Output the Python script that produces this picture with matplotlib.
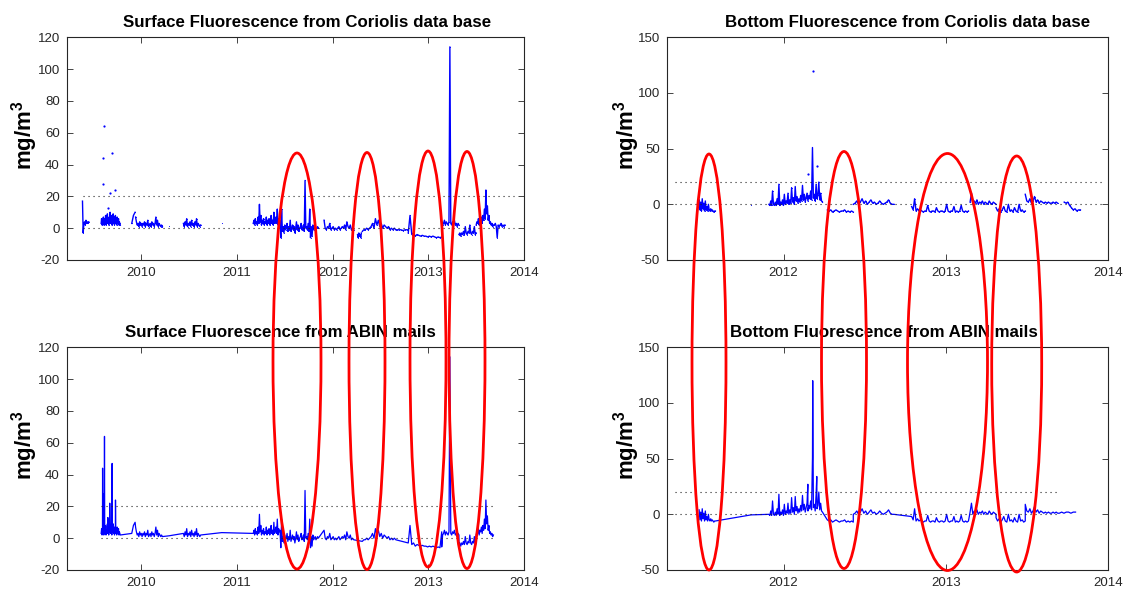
import numpy as np
import matplotlib.pyplot as plt
from matplotlib.patches import Ellipse

plt.rcParams['font.family'] = ['Liberation Sans', 'DejaVu Sans']
plt.rcParams['mathtext.fontset'] = 'custom'
plt.rcParams['mathtext.bf'] = 'Liberation Sans:bold'
plt.rcParams['mathtext.rm'] = 'Liberation Sans'
plt.rcParams['axes.unicode_minus'] = False

# ---------------- surface fluorescence (left panels), years / mg m-3 ----------------
s0 = [17, -3, 3, 4, 2, 5, 3, 4, 3, 4]
s1 = [3, 6, 2, 5, 3, 7, 2, 4, 6, 3, 8, 2, 5, 4, 9, 3, 6, 2, 7, 4, 10, 3, 5, 8, 2, 6,
      4, 9, 3, 7, 2, 5, 8, 3, 6, 2, 7, 4, 3, 6, 2, 4, 3, 2]
s2 = [3, 8, 10]
s3 = [7, 4, 2, 3, 1, 4, 2, 3, 1, 3, 2, 4, 1, 3, 2, 5, 1, 2, 3, 1, 4, 2, 3, 1, 3, 7,
      2, 5, 1, 3, 2, 1, 2, 1]
s4 = [1.5]
s5 = [3, 1, 4, 2, 6, 1, 3, 2, 4, 1, 5, 2, 3, 1, 4, 2, 6, 1, 3, 2, 1, 2]
s6 = [3.5]
s7 = [3, 5, 2, 6, 3, 4, 2, 7, 3, 15, 4, 8, 2, 5, 3, 6, 2, 4, 3, 7, 2, 5, 3, 6, 2, 4,
      8, 3, 5, 2, 10, 3, 4, 7, 3, 12, 2, 6, 4, 5]
s8 = [4, -6, 12, -2, 1, -3, 2, -1, 0, 3, -2, 1, -1, 5, -2, 0, 2, -1, 1, -3, 0, 4, -1,
      2, -2, 0, 1, 3, -1, 0, 2, -2, 30, 0, 1, -1, 3, -2, 12, -6, 1, -5, 2, -1, 0, 1,
      -1, 0, 1, 0]
s9 = [5, 0, -1, 1, 0, 3, -1, 0, 1, -1, 0, -1, 0, 1, -1, 0, 1, 0, 2, -1, 4, 1, 0, 2,
      -1, 0, -1]
s10 = [-4, -6, -3, -5, -4, -6, -3]
s11 = [-2, -1, -1, 0, -1, 0, 1, 3, 0, 6, 2, 5, 1, 3, 0, 2, 1, 0, 1, -1, 0, -1, 0, -1]
s11b = [-1, -1, -1, -1.5, -1, -1]
s12 = [-3, 8, -4, -3, -5, -4, -4.5, -5, -4.5, -5, -5, -5.5, -5, -5.5, -5, -5.5, -6,
       -5.5, -6, -5.5]
s13 = [4, 2, 3, 5, 2, 4, 3, 2, 4, 114, 3, 2, 4, 3, 5, 2, 3, 1, 3, 2]
s14 = [-4, -3, -5, -3, -4, -2, -4, 1, -3, -4, -2, -3, 2, -3, -4, -2, -3, 1, -4, -3]
s15 = [2, 4, 3, 6, 2, 5, 4, 7, 3, 8, 5, 12, 6, 24, 9, 14, 5, 8, 3, 4, 2, 3, 1, 2]
s16 = [2, 3, 1, -6, 2, 1, 2, 3, 1, 2, 1, 2]

surf_spike_t = [2009.595, 2009.600, 2009.615, 2009.65, 2009.67, 2009.695, 2009.73]
surf_spike_v = [44, 28, 64, 13, 22, 47, 24]

# (start, end, values, in Coriolis panel, in ABIN panel)
surf_segments = [
    (2009.385, 2009.45, s0, True, False),
    (2009.58, 2009.78, s1, True, True),
    (2009.90, 2009.935, s2, True, True),
    (2009.94, 2010.22, s3, True, True),
    (2010.29, 2010.29, s4, True, True),
    (2010.44, 2010.62, s5, True, True),
    (2010.84, 2010.84, s6, True, True),
    (2011.17, 2011.45, s7, True, True),
    (2011.45, 2011.85, s8, True, True),
    (2011.91, 2012.22, s9, True, True),
    (2012.26, 2012.30, s10, True, False),
    (2012.31, 2012.66, s11, True, True),
    (2012.67, 2012.78, s11b, True, False),
    (2012.79, 2013.14, s12, True, True),
    (2013.14, 2013.32, s13, True, True),
    (2013.32, 2013.50, s14, True, True),
    (2013.50, 2013.68, s15, True, True),
    (2013.69, 2013.80, s16, True, False),
]

# ---------------- bottom fluorescence (right panels) ----------------
b1 = [4, -5, 2, -6, 5, -4, 1, -6, 3, -5, -2, -6, 0, -5, -6, -4, -6, -5, -6, -7, -6, -6]
b2 = [-0.5]
b3 = [0, -1, 3, -1, 12, 0, -1, 2, -1, 5, 0, 18, -1, 2, 0, 4, -1, 9, 0, 3, 1, 10, 0, 4,
      1, 15, 2, 6, 0, 16, 3, 7, 1, 5, 2, 8, 3, 17, 4, 9, 2, 6, 10, 3, 8, 5, 12, 4, 51,
      6, 9, 3, 18, 5, 8, 20, 4, 10, 3, 2]
b4 = [-5, -6, -5, -7, -6, -5, -6, -7, -6, -6, -5, -7, -6, -7, -6, -7]
b5 = [0, 1, 3, 0, 2, 5, 1, 3, 0, 2, 4, 1, 2, 0, 1, 3, 1, 0, 1, 2, 4, 1, 0, 0]
b6 = [-2, -5, 5, -6, -4, -6, -5, -6, -7, -6, -6, -1, -6, -7, -6, -6, -7, -3, -6, -7,
      -6, -6, -7, -6, 0, -6, -7, -6, -6, -2, -7, -6, -7, -6, -1, -6, -7, -6, -7, -6]
b7 = [2, 10, 0, 3, 1, 4, 0, 2, 1, 3, 0, 2, 1, 0, 3, 1, 0, 2, 1, 0]
b8 = [-3, -6, -4, -7, -5, -2, -6, -7, 0, -6, -5, -7, -3, -6, -7, 0, -6, -5, -7, -6]
b9 = [9, 3, 2, 5, 1, 3, 7, 2, 4, 1, 3, 2, 1, 2, 1, 2, 1, 1, 2, 1, 2, 1]
b9b = [1, 2, 1, 2, 2, 1, 2, 2]
b10 = [2, 1, 2, -1, -3, -5, -4, -6, -5, -5]

bot_spike_t = [2012.15, 2012.18, 2012.205]
bot_spike_v = [27, 120, 34]

bot_segments = [
    (2011.48, 2011.58, b1, True, True),
    (2011.80, 2011.80, b2, True, True),
    (2011.91, 2012.24, b3, True, True),
    (2012.27, 2012.43, b4, True, True),
    (2012.43, 2012.68, b5, True, True),
    (2012.79, 2013.14, b6, True, True),
    (2013.15, 2013.31, b7, True, True),
    (2013.31, 2013.49, b8, True, True),
    (2013.49, 2013.69, b9, True, True),
    (2013.70, 2013.80, b9b, False, True),
    (2013.73, 2013.83, b10, True, False),
]

# reference lines (0 and 20 mg/m3) extents
ref_span = {'surf_top': (2009.39, 2013.90), 'surf_bot': (2009.58, 2013.68),
            'bot_top': (2011.33, 2013.97), 'bot_bot': (2011.33, 2013.70)}

# red ellipses: centre x, centre y, width, height (figure pixels, from top)
ell_cx = [297, 367, 428, 467, 709, 844, 947.5, 1016.7]
ell_cy = [361, 361, 359, 360, 362, 360, 362, 364]
ell_w = [48, 36, 36, 36, 34, 45, 80, 50]
ell_h = [416, 417, 416, 417, 416, 417, 417, 416]

W, H = 1141, 590
fig = plt.figure(figsize=(W / 100, H / 100), dpi=100)


def pax(x0, y0, x1, y1):
    return fig.add_axes([x0 / W, 1 - y1 / H, (x1 - x0) / W, (y1 - y0) / H])


ax_tl = pax(66.7, 37.3, 524, 260)
ax_bl = pax(66.7, 347.3, 524, 570)
ax_tr = pax(666.7, 37.3, 1108, 260)
ax_br = pax(666.7, 347.3, 1108, 570)


def draw_dots(ax, segs, st, sv):
    for t0, t1, v, on_top, on_bot in segs:
        if not on_top:
            continue
        t = np.linspace(t0, t1, len(v))
        ax.plot(t, v, '-', color='blue', lw=1.0)
        ax.plot(t, v, '.', color='blue', ms=1.5, mew=0)
    ax.plot(st, sv, '.', color='blue', ms=3.2, mew=0, ls='none')


def draw_line(ax, segs, st, sv):
    ts, vs = [], []
    for t0, t1, v, on_top, on_bot in segs:
        if not on_bot:
            continue
        ts.extend(np.linspace(t0, t1, len(v)))
        vs.extend(v)
    ts.extend(st)
    vs.extend(sv)
    order = np.argsort(ts)
    ax.plot(np.array(ts)[order], np.array(vs)[order], '-', color='blue', lw=0.9)


def refs(ax, span):
    for y in (0, 20):
        ax.plot(span, [y, y], color='#222222', lw=0.8, ls=(0, (1, 3.5)))


def style(ax, xlim, xticks, ylim, yticks, title, tx, lx):
    ax.set_xlim(xlim)
    ax.set_ylim(ylim)
    ax.set_xticks(xticks)
    ax.set_xticklabels([str(x) for x in xticks])
    ax.set_yticks(yticks)
    ax.tick_params(direction='in', top=True, right=True, length=4, width=0.6,
                   labelsize=9.5, colors='#262626', pad=5)
    for sp in ax.spines.values():
        sp.set_color('#262626')
        sp.set_linewidth(0.8)
    ax.text(tx, 1.046, title, transform=ax.transAxes, ha='left', va='baseline',
            fontsize=12.2, fontweight='bold')
    ax.set_ylabel(r'$\mathbf{mg/m^3}$', fontsize=16)
    ax.yaxis.set_label_coords(lx, 0.56)


years_l = [2010, 2011, 2012, 2013, 2014]
years_r = [2012, 2013, 2014]

draw_dots(ax_tl, surf_segments, surf_spike_t, surf_spike_v)
refs(ax_tl, ref_span['surf_top'])
style(ax_tl, (2009.22, 2014), years_l, (-20, 120), range(-20, 121, 20),
      'Surface Fluorescence from Coriolis data base', 0.123, -0.058)

draw_line(ax_bl, surf_segments, surf_spike_t, surf_spike_v)
refs(ax_bl, ref_span['surf_bot'])
style(ax_bl, (2009.22, 2014), years_l, (-20, 120), range(-20, 121, 20),
      'Surface Fluorescence from ABIN mails', 0.127, -0.058)

draw_dots(ax_tr, bot_segments, bot_spike_t, bot_spike_v)
refs(ax_tr, ref_span['bot_top'])
style(ax_tr, (2011.28, 2014), years_r, (-50, 150), range(-50, 151, 50),
      'Bottom Fluorescence from Coriolis data base', 0.132, -0.056)

draw_line(ax_br, bot_segments, bot_spike_t, bot_spike_v)
refs(ax_br, ref_span['bot_bot'])
style(ax_br, (2011.28, 2014), years_r, (-50, 150), range(-50, 151, 50),
      'Bottom Fluorescence from ABIN mails', 0.143, -0.056)

for cx, cy, w, h in zip(ell_cx, ell_cy, ell_w, ell_h):
    e = Ellipse((cx / W, 1 - cy / H), w / W, h / H, transform=fig.transFigure,
                fill=False, edgecolor='red', lw=2, zorder=10)
    fig.add_artist(e)

fig.savefig('out.png', dpi=100)
